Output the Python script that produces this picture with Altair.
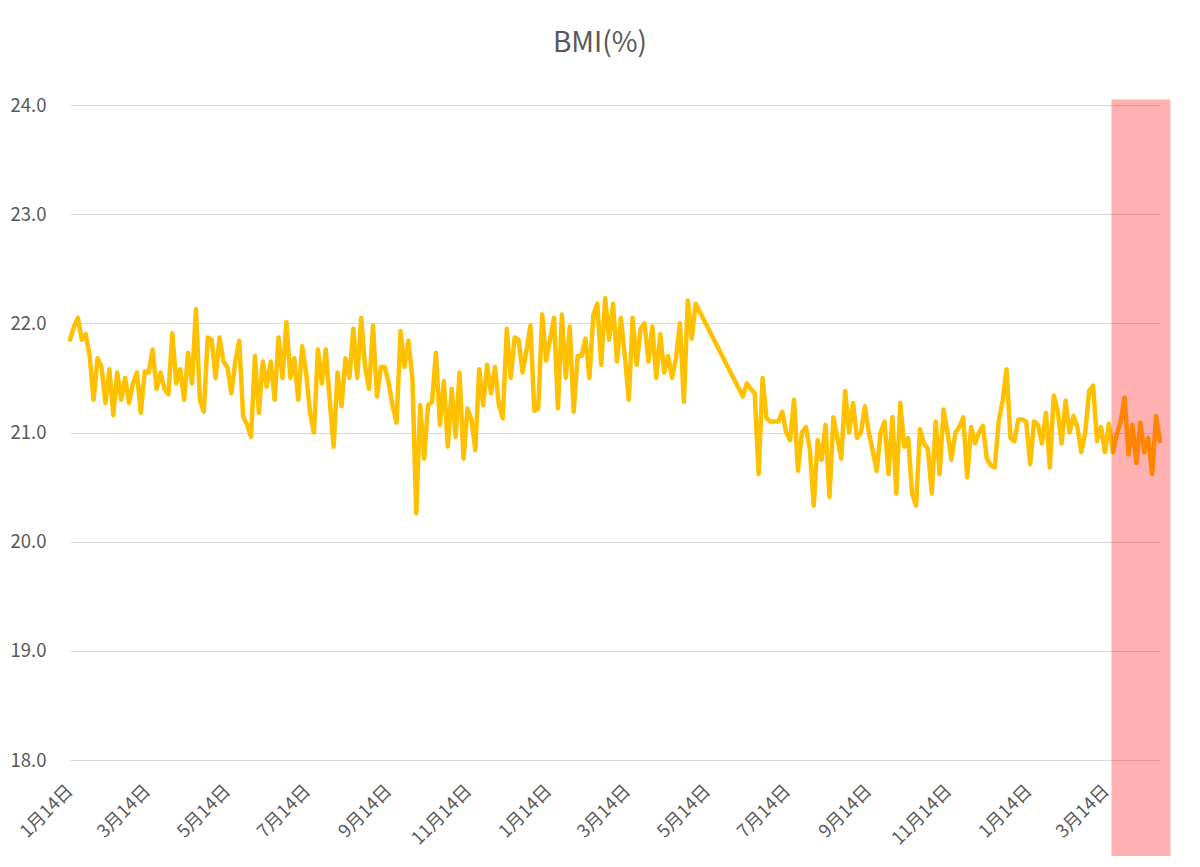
import altair as alt
import pandas as pd

# ---------------- data ----------------
start_date = "2019-01-14"
step_days = 3

# first block of readings (every 3 days from the start)
seg1_offset_days = 0
seg1_values = [
    21.85, 21.97, 22.05, 21.85, 21.9, 21.7, 21.3, 21.68, 21.6, 21.27,
    21.58, 21.16, 21.55, 21.3, 21.5, 21.27, 21.45, 21.55, 21.18, 21.56,
    21.55, 21.76, 21.4, 21.55, 21.4, 21.35, 21.91, 21.45, 21.58, 21.3,
    21.73, 21.45, 22.13, 21.3, 21.19, 21.87, 21.85, 21.5, 21.87, 21.65,
    21.6, 21.36, 21.65, 21.84, 21.15, 21.07, 20.96, 21.7, 21.18, 21.65,
    21.42, 21.65, 21.3, 21.87, 21.5, 22.01, 21.5, 21.68, 21.3, 21.79,
    21.55, 21.18, 21.0, 21.76, 21.45, 21.76, 21.3, 20.87, 21.55, 21.24,
    21.68, 21.5, 21.95, 21.5, 22.05, 21.6, 21.4, 21.98, 21.33, 21.6,
    21.6, 21.45, 21.24, 21.09, 21.93, 21.6, 21.84, 21.5, 20.26, 21.25,
    20.76, 21.25, 21.28, 21.73, 21.07, 21.47, 20.87, 21.4, 20.96, 21.55,
    20.76, 21.22, 21.12, 20.84, 21.58, 21.25, 21.62, 21.36, 21.6, 21.25,
    21.13, 21.95, 21.5, 21.87, 21.85, 21.55, 21.75, 21.98, 21.2, 21.22,
    22.08, 21.66, 21.85, 22.05, 21.22, 22.08, 21.5, 21.97, 21.19, 21.7,
    21.7, 21.86, 21.5, 22.08, 22.18, 21.62, 22.23, 21.85, 22.18, 21.65,
    22.05, 21.7, 21.3, 22.05, 21.62, 21.95, 22.0, 21.65, 21.97, 21.5,
    21.9, 21.55, 21.7, 21.5, 21.68, 22.0, 21.28, 22.21, 21.86, 22.18,
]

# second block after the break in measurements
seg2_offset_days = 513
seg2_values = [
    21.33, 21.45, 21.4, 21.36, 20.62, 21.5, 21.13, 21.1, 21.1, 21.1,
    21.19, 21.0, 20.93, 21.3, 20.65, 21.0, 21.05, 20.85, 20.33, 20.93,
    20.75, 21.07, 20.41, 21.14, 20.95, 20.76, 21.38, 21.0, 21.27, 20.95,
    21.0, 21.24, 21.0, 20.83, 20.65, 21.0, 21.1, 20.62, 21.14, 20.44,
    21.27, 20.87, 20.95, 20.44, 20.33, 21.03, 20.9, 20.85, 20.44, 21.1,
    20.62, 21.21, 21.0, 20.75, 21.0, 21.05, 21.14, 20.59, 21.05, 20.9,
    21.0, 21.06, 20.76, 20.7, 20.68, 21.1, 21.29, 21.58, 20.95, 20.92,
    21.12, 21.12, 21.1, 20.71, 21.1, 21.07, 20.9, 21.18, 20.68, 21.34,
    21.2, 20.9, 21.29, 21.0, 21.15, 21.05, 20.82, 21.0, 21.38, 21.43,
    20.92, 21.05, 20.82, 21.08, 20.82, 20.98, 21.1, 21.32, 20.8, 21.07,
    20.72, 21.09, 20.82, 20.95, 20.62, 21.15, 20.92,
]

tick_dates = [
    (2019, 1, 14), (2019, 3, 14), (2019, 5, 14), (2019, 7, 14), (2019, 9, 14),
    (2019, 11, 14), (2020, 1, 14), (2020, 3, 14), (2020, 5, 14), (2020, 7, 14),
    (2020, 9, 14), (2020, 11, 14), (2021, 1, 14), (2021, 3, 14),
]
y_ticks = [18, 19, 20, 21, 22, 23, 24]
y_domain = [18, 24]

highlight_start = "2021-03-18"
highlight_end = "2021-05-02"
highlight_top = 24.05
highlight_bottom = 17.0

title_text = "BMI(%)"

# ---------------- table ----------------
base = pd.Timestamp(start_date)
rows = []
for off, vals in ((seg1_offset_days, seg1_values), (seg2_offset_days, seg2_values)):
    for i, v in enumerate(vals):
        d = base + pd.Timedelta(days=off + step_days * i)
        rows.append({"date": d.strftime("%Y-%m-%d"), "bmi": v})
df = pd.DataFrame(rows)
last = pd.Timestamp(df["date"].iloc[-1])

hl = pd.DataFrame([{
    "start": highlight_start, "end": highlight_end,
    "top": highlight_top, "bottom": highlight_bottom,
}])

FONT = "Noto Sans CJK JP"
GREY = "#595959"

x_scale = alt.Scale(
    type="utc",
    domain=[alt.DateTime(year=base.year, month=base.month, date=base.day, utc=True),
            alt.DateTime(year=last.year, month=last.month, date=last.day, utc=True)],
)
y_scale = alt.Scale(domain=y_domain, nice=False, zero=False)

x_axis = alt.Axis(
    title=None,
    values=[alt.DateTime(year=a, month=b, date=c, utc=True) for a, b, c in tick_dates],
    labelExpr="utcFormat(datum.value, '%-m月%-d日')",
    labelAngle=-45,
    labelAlign="right",
    labelBaseline="middle",
    labelPadding=28,
    labelFontSize=18,
    labelColor=GREY,
    labelFont=FONT,
    labelOverlap=False,
    labelBound=False,
    labelFlush=False,
    ticks=False,
    domain=True,
    domainColor="#D9D9D9",
    grid=False,
)
y_axis = alt.Axis(
    title=None,
    values=y_ticks,
    format=".1f",
    labelPadding=24,
    labelFontSize=18.5,
    labelColor=GREY,
    labelFont=FONT,
    ticks=False,
    domain=False,
    grid=True,
    gridColor="#D9D9D9",
    gridWidth=1,
)

line = alt.Chart(df).mark_line(
    color="#FFC000", strokeWidth=4.5, strokeJoin="round", strokeCap="round"
).encode(
    x=alt.X("date:T", scale=x_scale, axis=x_axis),
    y=alt.Y("bmi:Q", scale=y_scale, axis=y_axis),
)

band = alt.Chart(hl).mark_rect(color="#FF0000", opacity=0.31).encode(
    x="start:T",
    x2="end:T",
    y="top:Q",
    y2="bottom:Q",
)

chart = alt.layer(line, band).properties(
    width=1090,
    height=655,
    background="white",
    autosize=alt.AutoSizeParams(type="none"),
    padding={"left": 62, "top": 97, "right": 24, "bottom": 96},
    title=alt.TitleParams(
        text=title_text,
        fontSize=28,
        font=FONT,
        fontWeight="normal",
        color=GREY,
        anchor="middle",
        dx=-15,
        offset=38,
    ),
).configure_view(stroke="transparent", strokeWidth=0)

chart.save("out.html", embed_options={"renderer": "svg", "actions": False})
